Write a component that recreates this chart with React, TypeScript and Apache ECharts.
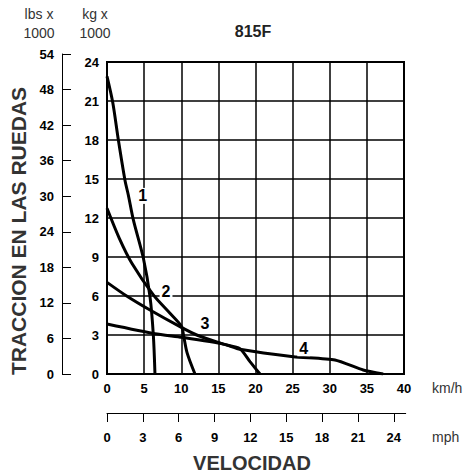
import React, { useEffect, useRef } from "react";
import * as echarts from "echarts";

const kmhTicks = [0, 5, 10, 15, 20, 25, 30, 35, 40];
const kgTicks = [0, 3, 6, 9, 12, 15, 18, 21, 24];
const lbsTicks = [0, 6, 12, 18, 24, 30, 36, 42, 48, 54];
const mphTicks = [0, 3, 6, 9, 12, 15, 18, 21, 24];

// [km/h, kg x 1000]
const gear1 = [[0, 22.9], [0.77, 20.9], [1.53, 18], [2.42, 14.9], [2.87, 13.77], [3.55, 11.85], [4.9, 8.9], [5.79, 5.95], [6.24, 3.0], [6.46, 0]];
const gear2 = [[0, 12.75], [1.66, 10.44], [3.37, 8.5], [6.24, 6.08], [8.48, 4.67], [10.06, 3.64], [10.3, 3.0], [10.8, 1.6], [11.85, 0]];
const gear3 = [[0, 7.05], [2.65, 6.0], [5.79, 4.92], [9.83, 3.64], [12.08, 3.0], [15.66, 2.3], [17.9, 1.95], [19.26, 0.95], [20.6, 0]];
const gear4 = [[0, 3.85], [6.46, 3.1], [10.06, 2.82], [15.7, 2.3], [17.9, 1.9], [25.1, 1.33], [30.7, 1.08], [34.5, 0.31], [37.2, 0]];
const gearLabels = [
  { name: "1", coord: [4.8, 13.7] },
  { name: "2", coord: [7.95, 6.33] },
  { name: "3", coord: [13.2, 3.85] },
  { name: "4", coord: [26.5, 1.98] },
];

const NARROW = "'Liberation Sans Narrow', 'Liberation Sans', Arial, sans-serif";
const SANS = "'Liberation Sans', Arial, sans-serif";

export default function App() {
  const ref = useRef<HTMLDivElement>(null);
  useEffect(() => {
    if (!ref.current) return;
    const chart = echarts.init(ref.current, null, { renderer: "svg" });
    const tickLabel = { fontFamily: NARROW, fontWeight: "bold", fontSize: 13, color: "#000" };
    const mkSeries = (data: number[][], idx: number, smooth: number) => ({
      type: "line",
      xAxisIndex: 0,
      yAxisIndex: 0,
      data,
      symbol: "none",
      smooth,
      lineStyle: { color: "#000", width: 3 },
      z: 3,
      markPoint: {
        symbol: "rect",
        symbolSize: 0,
        label: {
          show: true,
          position: "inside",
          formatter: gearLabels[idx].name,
          color: "#000",
          fontFamily: NARROW,
          fontWeight: "bold",
          fontSize: 16,
          backgroundColor: "#fff",
          padding: [0, 2],
        },
        data: [{ coord: gearLabels[idx].coord }],
      },
    });
    chart.setOption({
      animation: false,
      backgroundColor: "#fff",
      grid: [
        { left: 107, top: 62, width: 297, height: 312, show: true, borderColor: "#000", borderWidth: 2, backgroundColor: "transparent" },
        { left: 62, top: 54, width: 1, height: 320 },
        { left: 107, top: 412, width: 298.7, height: 1 },
      ],
      xAxis: [
        {
          gridIndex: 0, type: "value", min: 0, max: 40, interval: 5,
          axisLine: { show: true, lineStyle: { color: "#000", width: 2 } },
          axisTick: { show: false },
          axisLabel: { ...tickLabel, margin: 8, customValues: kmhTicks },
          splitLine: { show: true, lineStyle: { color: "#000", width: 1.5 } },
        },
        { gridIndex: 1, type: "value", min: 0, max: 1, show: false },
        {
          gridIndex: 2, type: "value", min: 0, max: 25, interval: 3,
          axisLine: { show: true, onZero: false, lineStyle: { color: "#000", width: 1 } },
          axisTick: { show: true, length: 9, lineStyle: { color: "#000", width: 1 }, customValues: mphTicks },
          axisLabel: { ...tickLabel, margin: 18, customValues: mphTicks },
          splitLine: { show: false },
        },
      ],
      yAxis: [
        {
          gridIndex: 0, type: "value", min: 0, max: 24, interval: 3,
          axisLine: { show: true, lineStyle: { color: "#000", width: 2 } },
          axisTick: { show: false },
          axisLabel: { ...tickLabel, margin: 8, customValues: kgTicks },
          splitLine: { show: true, lineStyle: { color: "#000", width: 1.5 } },
        },
        {
          gridIndex: 1, type: "value", min: 0, max: 54, interval: 6,
          axisLine: { show: true, lineStyle: { color: "#000", width: 1 } },
          axisTick: { show: true, inside: true, length: 9, lineStyle: { color: "#000", width: 1 } },
          axisLabel: { ...tickLabel, margin: 8, customValues: lbsTicks },
          splitLine: { show: false },
        },
        { gridIndex: 2, type: "value", min: 0, max: 1, show: false },
      ],
      series: [mkSeries(gear1, 0, 0.3), mkSeries(gear2, 1, 0.3), mkSeries(gear3, 2, 0.25), mkSeries(gear4, 3, 0.2)],
      graphic: [
        { type: "text", x: 39, y: 14, style: { text: "lbs x", fontFamily: SANS, fontSize: 14, fill: "#333", align: "center", verticalAlign: "middle" } },
        { type: "text", x: 39, y: 33, style: { text: "1000", fontFamily: SANS, fontSize: 14, fill: "#333", align: "center", verticalAlign: "middle" } },
        { type: "text", x: 95, y: 14, style: { text: "kg x", fontFamily: SANS, fontSize: 14, fill: "#333", align: "center", verticalAlign: "middle" } },
        { type: "text", x: 95, y: 33, style: { text: "1000", fontFamily: SANS, fontSize: 14, fill: "#333", align: "center", verticalAlign: "middle" } },
        { type: "text", x: 253, y: 31, style: { text: "815F", fontFamily: SANS, fontWeight: "bold", fontSize: 16, fill: "#222", align: "center", verticalAlign: "middle" } },
        { type: "text", x: 432, y: 388, style: { text: "km/h", fontFamily: SANS, fontSize: 14, fill: "#333", align: "left", verticalAlign: "middle" } },
        { type: "text", x: 432, y: 437, style: { text: "mph", fontFamily: SANS, fontSize: 14, fill: "#333", align: "left", verticalAlign: "middle" } },
        { type: "text", x: 252, y: 463, style: { text: "VELOCIDAD", fontFamily: SANS, fontWeight: "bold", fontSize: 20, fill: "#333", align: "center", verticalAlign: "middle" } },
        { type: "text", x: 18, y: 231, rotation: Math.PI / 2, style: { text: "TRACCION EN LAS RUEDAS", fontFamily: SANS, fontWeight: "bold", fontSize: 21, fill: "#333", align: "center", verticalAlign: "middle" } },
      ],
    });
    return () => chart.dispose();
  }, []);
  return <div ref={ref} style={{ position: "fixed", left: 0, top: 0, width: 467, height: 473 }} />;
}
